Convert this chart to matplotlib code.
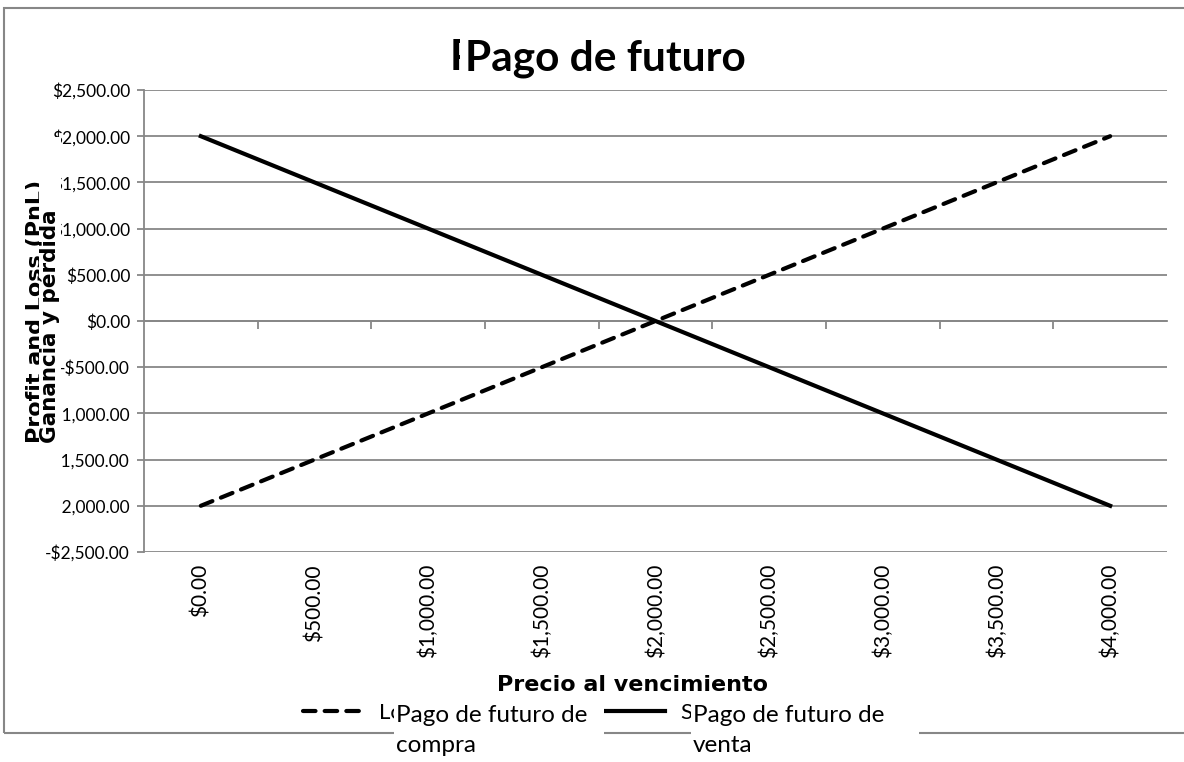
import matplotlib.pyplot as plt
from matplotlib.patches import Rectangle
import numpy as np

# datos del grafico
precio = [0, 500, 1000, 1500, 2000, 2500, 3000, 3500, 4000]
pago_compra = [-2000, -1500, -1000, -500, 0, 500, 1000, 1500, 2000]
pago_venta = [2000, 1500, 1000, 500, 0, -500, -1000, -1500, -2000]
y_ticks = [-2500, -2000, -1500, -1000, -500, 0, 500, 1000, 1500, 2000, 2500]

W, H = 1184, 762
GRIS = '#878787'
plt.rcParams['font.family'] = ['Lato', 'DejaVu Sans']
EJES = ['DejaVu Sans']


def fx(px):
    return px / W


def fy(py):
    return 1 - py / H


def money(v):
    s = f"${abs(v):,.2f}"
    return '-' + s if v < 0 else s


fig = plt.figure(figsize=(W / 100, H / 100), dpi=100)
ax = fig.add_axes([fx(144), fy(552), (1167 - 144) / W, (552 - 90) / H])

x = np.arange(len(precio))
linea_compra, = ax.plot(x, pago_compra, color='black', lw=3, dashes=(3, 2.2),
                        dash_capstyle='round', zorder=3)
linea_venta, = ax.plot(x, pago_venta, color='black', lw=3, zorder=3)

ax.set_xlim(-0.5, len(precio) - 0.5)
ax.set_ylim(-2500, 2500)
ax.set_yticks(y_ticks)
ax.set_yticklabels([money(v) for v in y_ticks])
ax.yaxis.grid(True, color=GRIS, lw=1.3)
ax.set_axisbelow(True)

for s in ['top', 'right']:
    ax.spines[s].set_visible(False)
ax.spines['left'].set_color(GRIS)
ax.spines['left'].set_linewidth(1.3)
ax.spines['bottom'].set_position(('data', 0))
ax.spines['bottom'].set_color(GRIS)
ax.spines['bottom'].set_linewidth(1.3)

ax.tick_params(axis='y', length=5, width=1.3, color=GRIS, labelsize=12.5, pad=5)
# categorias: etiquetas abajo, marcas en los limites sobre el eje cero
ax.set_xticks(x)
ax.set_xticklabels([money(p) for p in precio], rotation=90, va='top')
ax.set_xticks(np.arange(0.5, len(precio) - 1, 1), minor=True)
ax.tick_params(axis='x', which='major', length=0, pad=175, labelsize=15)
ax.tick_params(axis='x', which='minor', length=6, width=1.3, color=GRIS)

# borde del area del grafico
fig.add_artist(Rectangle((fx(4), fy(733)), 1.2, (733 - 8) / H, transform=fig.transFigure,
                         fill=False, edgecolor=GRIS, lw=1.5, zorder=0.5))

# titulo
fig.text(fx(450), fy(70), 'P', fontsize=30.5, fontweight='bold', va='baseline', zorder=1)
fig.add_artist(Rectangle((fx(460), fy(86)), 300 / W, 56 / H, transform=fig.transFigure,
                         facecolor='white', edgecolor='none', zorder=2))
fig.text(fx(605), fy(70), 'Pago de futuro', fontsize=30.5, fontweight='bold',
         ha='center', va='baseline', zorder=3)

# titulo eje y
fig.text(fx(42), fy(443), 'Profit and Loss (PnL)', fontsize=16, fontweight='bold',
         family=EJES, rotation=90, rotation_mode='anchor', ha='left',
         va='baseline', zorder=1)
fig.add_artist(Rectangle((fx(38.5), fy(515)), 22 / W, (515 - 137) / H, transform=fig.transFigure,
                         facecolor='white', edgecolor='none', zorder=2))
fig.text(fx(56), fy(443), 'Ganancia y pérdida', fontsize=15.5, fontweight='bold',
         family=EJES, rotation=90, rotation_mode='anchor', ha='left',
         va='baseline', zorder=3)

# titulo eje x
fig.text(fx(497), fy(685), 'Precio al vencimiento', fontsize=16, fontweight='bold',
         family=EJES, ha='left', va='center')

# leyenda
leg = fig.legend([linea_compra, linea_venta], ['Long', 'Short'], loc='center left',
                 bbox_to_anchor=(fx(283), fy(713)), ncol=2, frameon=False, fontsize=16,
                 handlelength=2.7, handletextpad=0.72, columnspacing=8.0)
fig.canvas.draw()
for t, dx, ancho, texto in zip(leg.get_texts(), [15, 10], [210, 228],
                               ['Pago de futuro de\ncompra', 'Pago de futuro de\nventa']):
    bb = t.get_window_extent()
    x0 = bb.x0 + dx
    fig.add_artist(Rectangle((x0 / W, 0), ancho / W, fy(701), transform=fig.transFigure,
                             facecolor='white', edgecolor='none', zorder=6))
    fig.text((x0 + 2) / W, fy(705), texto, fontsize=17.5, va='top', ha='left',
             linespacing=1.55, zorder=7)

fig.savefig('out.png', dpi=100)
